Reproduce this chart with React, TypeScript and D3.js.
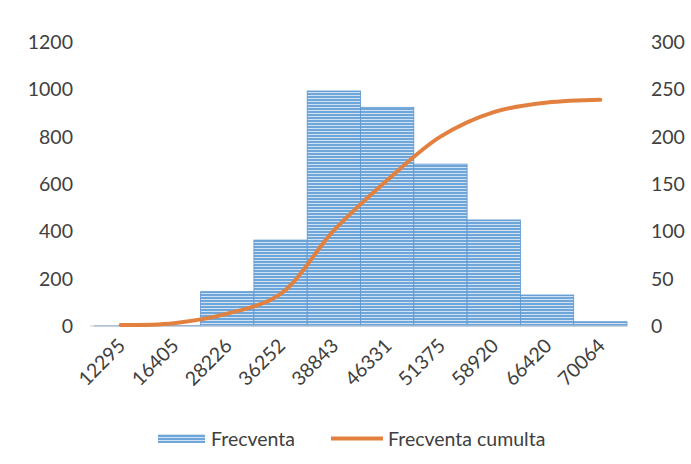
import * as React from 'react';
import * as d3 from 'd3';

const categories = ['12295', '16405', '28226', '36252', '38843', '46331', '51375', '58920', '66420', '70064'];
const frecventa = [1, 2, 145, 363, 993, 924, 684, 448, 131, 18];
const cumulata = [1, 3, 13, 34, 101, 154, 200, 226, 236, 239];
const leftTicks = [0, 200, 400, 600, 800, 1000, 1200];
const rightTicks = [0, 50, 100, 150, 200, 250, 300];

const width = 691;
const height = 464;
const margin = { top: 42, bottom: 138, left: 94, right: 64 };

const font = 'Lato, "Liberation Sans", sans-serif';
const fontSize = 19.5;
const textColor = '#404040';
const barBlue = '#6fa6da';
const lineOrange = '#e2813f';

export default function App() {
  const x = d3
    .scaleBand<string>()
    .domain(categories)
    .range([margin.left, width - margin.right])
    .padding(0);

  const yLeft = d3
    .scaleLinear()
    .domain([0, 1200])
    .range([height - margin.bottom, margin.top]);

  const yRight = d3
    .scaleLinear()
    .domain([0, 300])
    .range([height - margin.bottom, margin.top]);

  const line = d3
    .line<number>()
    .x((_, i) => (x(categories[i]) as number) + x.bandwidth() / 2)
    .y(d => yRight(d))
    .curve(d3.curveCatmullRom.alpha(0.5));

  const baseY = yLeft(0);

  return (
    <svg width={width} height={height} style={{ position: 'absolute', left: 0, top: 0, background: '#fff' }}>
      <defs>
        <pattern id="stripes" width="6" height="3" patternUnits="userSpaceOnUse">
          <rect width="6" height="3" fill={barBlue} />
          <rect y="2" width="6" height="1" fill="#cfe1f3" />
        </pattern>
      </defs>

      {/* bars */}
      <g>
        {frecventa.map((v, i) => (
          <rect
            key={categories[i]}
            x={x(categories[i])}
            y={yLeft(v)}
            width={x.bandwidth()}
            height={baseY - yLeft(v)}
            fill="url(#stripes)"
            stroke="#5b95cf"
            strokeWidth={0.8}
          />
        ))}
      </g>

      {/* category axis line */}
      <line x1={margin.left - 4} x2={width - margin.right} y1={baseY} y2={baseY} stroke="#d0d0d0" strokeWidth={1} />

      {/* cumulative line */}
      <path d={line(cumulata) || ''} fill="none" stroke={lineOrange} strokeWidth={4} strokeLinecap="round" />

      {/* left axis */}
      <g fontFamily={font} fontSize={fontSize} fill={textColor}>
        {leftTicks.map(t => (
          <text key={t} x={73} y={yLeft(t)} dy="0.36em" textAnchor="end">
            {t}
          </text>
        ))}
      </g>

      {/* right axis */}
      <g fontFamily={font} fontSize={fontSize} fill={textColor}>
        {rightTicks.map(t => (
          <text key={t} x={651} y={yRight(t)} dy="0.36em" textAnchor="start">
            {t}
          </text>
        ))}
      </g>

      {/* x labels */}
      <g fontFamily={font} fontSize={fontSize} fill={textColor}>
        {categories.map(c => {
          const cx = (x(c) as number) + x.bandwidth() / 2 + 1;
          const cy = baseY + 16;
          return (
            <text key={c} transform={`translate(${cx},${cy}) rotate(-45)`} textAnchor="end" dy="0.36em">
              {c}
            </text>
          );
        })}
      </g>

      {/* legend */}
      <g fontFamily={font} fontSize={fontSize} fill={textColor}>
        <rect x={158} y={434} width={47} height={9} fill="url(#stripes)" />
        <text x={211} y={438.5} dy="0.36em">Frecventa</text>
        <line x1={331} x2={383} y1={438.5} y2={438.5} stroke={lineOrange} strokeWidth={4} />
        <text x={388} y={438.5} dy="0.36em">Frecventa cumulta</text>
      </g>
    </svg>
  );
}
